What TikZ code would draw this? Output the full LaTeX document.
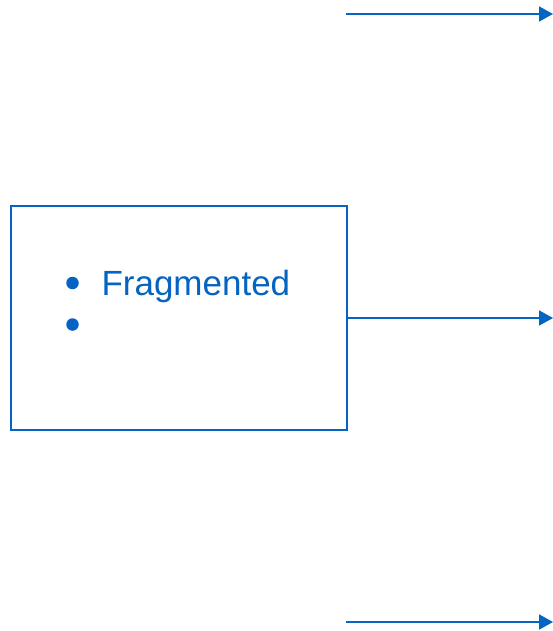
\documentclass[tikz,border=0pt]{standalone}
\usepackage{fontspec}
\setmainfont{Liberation Sans}
\usetikzlibrary{arrows.meta}
\definecolor{lineblue}{HTML}{0563C1}
\begin{document}
\begin{tikzpicture}[x=1pt,y=-1pt,
  conn/.style={draw=lineblue, line width=1.8pt, -{Triangle[length=14pt,width=15pt]}},
  frame/.style={draw=lineblue, line width=1.8pt, minimum width=336pt, minimum height=224pt, inner sep=0pt, outer sep=0pt, anchor=north west},
  dot/.style={circle, fill=lineblue, inner sep=0pt, minimum size=12.5pt},
  label/.style={font=\fontsize{35}{40}\selectfont, text=lineblue, anchor=base west, inner sep=0pt}]
\useasboundingbox (0,0) rectangle (553,631);
\node[frame] (box) at (11,206) {};
\node[dot] (b1) at (72.5,283) {};
\node[dot] (b2) at (72.5,324.5) {};
\node[label] (t1) at (101.3,295.5) {Fragmented};
\coordinate (s1) at (346,14);
\coordinate (e1) at (553,14);
\coordinate (e2) at (553,318);
\coordinate (s3) at (346,622);
\coordinate (e3) at (553,622);
\draw[conn] (s1) -- (e1);
\draw[conn] (box.east) -- (e2);
\draw[conn] (s3) -- (e3);
\end{tikzpicture}
\end{document}
